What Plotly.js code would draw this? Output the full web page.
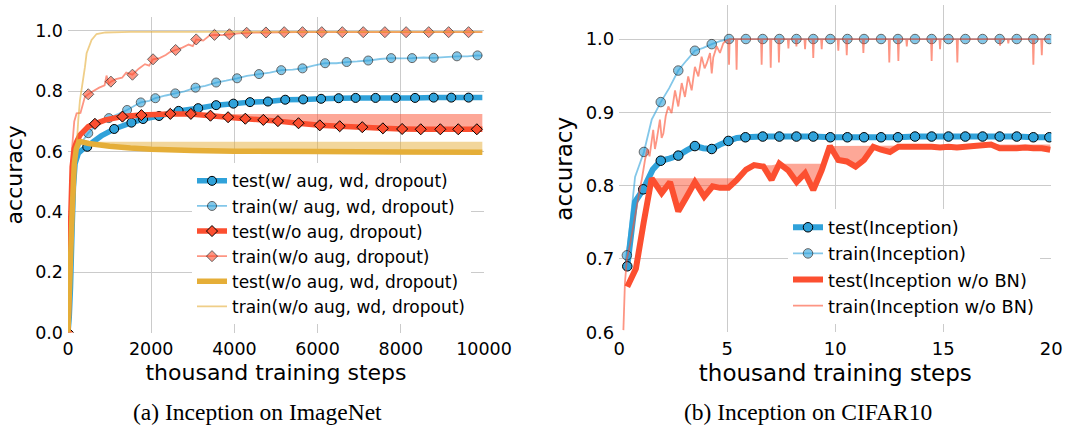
<!DOCTYPE html>
<html><head><meta charset="utf-8">
<script src="https://cdn.plot.ly/plotly-3.0.1.min.js"></script>
<style>html,body{margin:0;padding:0;background:#fff}</style>
</head><body>
<div id="chart" style="width:1065px;height:425px"></div>
<script>
// ---------- (a) Inception on ImageNet : x = thousand training steps ----------
var xTicksA = [0, 2000, 4000, 6000, 8000, 10000];
var xTickLabelsA = ['0', '2000', '4000', '6000', '8000', '10000'];
var yTicksA = [0, 0.2, 0.4, 0.6, 0.8, 1.0];

var testAugX = [0, 30, 60, 100, 130, 170, 250, 350, 463, 600, 800, 1110, 1525, 1805, 2188, 2659, 3130, 3561, 3976, 4375, 4806, 5222, 5653, 6084, 6507, 6914, 7393, 7880, 8343, 8790, 9214, 9629, 9960];
var testAugY = [0, 0.05, 0.15, 0.35, 0.48, 0.56, 0.595, 0.607, 0.616, 0.632, 0.652, 0.675, 0.696, 0.708, 0.718, 0.735, 0.744, 0.754, 0.759, 0.764, 0.766, 0.772, 0.773, 0.775, 0.777, 0.778, 0.778, 0.778, 0.778, 0.779, 0.779, 0.779, 0.779];
var testAugMkX = [463, 1110, 1525, 1805, 2188, 2659, 3130, 3561, 3976, 4375, 4806, 5222, 5653, 6084, 6507, 6914, 7393, 7880, 8343, 8790, 9214, 9629];
var testAugMkY = [0.616, 0.675, 0.696, 0.708, 0.718, 0.735, 0.744, 0.754, 0.759, 0.764, 0.766, 0.772, 0.773, 0.775, 0.777, 0.778, 0.778, 0.778, 0.778, 0.779, 0.779, 0.779];

var trainAugX = [0, 60, 100, 150, 250, 350, 487, 700, 982, 1200, 1421, 1600, 1749, 1950, 2100, 2350, 2579, 2800, 3066, 3300, 3561, 3800, 4064, 4300, 4591, 4850, 5126, 5400, 5637, 5900, 6180, 6450, 6699, 6950, 7217, 7500, 7768, 8000, 8271, 8550, 8790, 9050, 9349, 9600, 9844, 9960];
var trainAugY = [0, 0.2, 0.4, 0.55, 0.61, 0.635, 0.661, 0.69, 0.711, 0.724, 0.738, 0.752, 0.763, 0.768, 0.777, 0.786, 0.793, 0.8, 0.812, 0.818, 0.829, 0.835, 0.843, 0.851, 0.857, 0.862, 0.87, 0.872, 0.876, 0.885, 0.893, 0.893, 0.897, 0.899, 0.902, 0.907, 0.91, 0.909, 0.91, 0.912, 0.911, 0.913, 0.916, 0.916, 0.919, 0.918];
var trainAugMkX = [487, 982, 1421, 1749, 2100, 2579, 3066, 3561, 4064, 4591, 5126, 5637, 6180, 6699, 7217, 7768, 8271, 8790, 9349, 9844];
var trainAugMkY = [0.661, 0.711, 0.738, 0.763, 0.777, 0.793, 0.812, 0.829, 0.843, 0.857, 0.87, 0.876, 0.893, 0.897, 0.902, 0.91, 0.91, 0.911, 0.916, 0.919];

var testNoAugX = [0, 50, 100, 150, 200, 287, 487, 647, 900, 1309, 1764, 2459, 2954, 3425, 3848, 4263, 4695, 5046, 5541, 6052, 6531, 7074, 7569, 8032, 8479, 8950, 9381, 9828, 9960];
var testNoAugY = [0, 0.3, 0.55, 0.61, 0.63, 0.655, 0.683, 0.692, 0.705, 0.716, 0.721, 0.725, 0.725, 0.719, 0.714, 0.709, 0.705, 0.701, 0.694, 0.687, 0.684, 0.681, 0.677, 0.675, 0.674, 0.674, 0.674, 0.674, 0.674];
var testNoAugMkX = [0, 647, 1309, 1764, 2459, 2954, 3425, 3848, 4263, 4695, 5046, 5541, 6052, 6531, 7074, 7569, 8032, 8479, 8950, 9381, 9828];
var testNoAugMkY = [0, 0.692, 0.716, 0.721, 0.725, 0.725, 0.719, 0.714, 0.709, 0.705, 0.701, 0.694, 0.687, 0.684, 0.681, 0.677, 0.675, 0.674, 0.674, 0.674, 0.674];

var trainNoAugX = [0, 50, 88, 150, 207, 300, 407, 487, 600, 750, 880, 926, 980, 1030, 1150, 1300, 1400, 1549, 1700, 1850, 1950, 2044, 2200, 2350, 2450, 2587, 2750, 2900, 3000, 3082, 3250, 3400, 3521, 3700, 3880, 4100, 4295, 4758, 5500, 7000, 8500, 9960];
var trainNoAugY = [0, 0.35, 0.594, 0.7, 0.727, 0.728, 0.782, 0.79, 0.8, 0.812, 0.82, 0.852, 0.825, 0.832, 0.84, 0.845, 0.862, 0.855, 0.875, 0.89, 0.885, 0.906, 0.91, 0.92, 0.93, 0.937, 0.945, 0.955, 0.95, 0.972, 0.968, 0.985, 0.987, 0.986, 0.989, 0.992, 0.994, 0.995, 0.996, 0.996, 0.996, 0.996];
var trainNoAugMkX = [487, 1030, 1549, 2044, 2587, 3082, 3521, 3880, 4295, 4758, 5197, 5637, 6100, 6594, 7097, 7617, 8128, 8671, 9150, 9629];
var trainNoAugMkY = [0.79, 0.832, 0.855, 0.906, 0.937, 0.972, 0.987, 0.989, 0.994, 0.995, 0.996, 0.996, 0.996, 0.996, 0.996, 0.996, 0.996, 0.996, 0.996, 0.996];

var testNoRegX = [0, 50, 100, 150, 200, 260, 300, 500, 1000, 1500, 2000, 3000, 4000, 6000, 8000, 9960];
var testNoRegY = [0, 0.2, 0.4, 0.56, 0.61, 0.632, 0.633, 0.627, 0.618, 0.612, 0.608, 0.604, 0.601, 0.6, 0.599, 0.598];

var trainNoRegX = [0, 60, 127, 200, 247, 287, 407, 447, 567, 686, 900, 1500, 3000, 9960];
var trainNoRegY = [0, 0.2, 0.37, 0.6, 0.705, 0.77, 0.88, 0.926, 0.97, 0.99, 0.995, 0.997, 0.997, 0.997];

// ---------- (b) Inception on CIFAR10 ----------
var xTicksB = [0, 5, 10, 15, 20];
var yTicksB = [0.6, 0.7, 0.8, 0.9, 1.0];

var testIncX = [0.37, 0.73, 1.11, 1.55, 1.92, 2.31, 2.73, 3.12, 3.50, 3.89, 4.28, 4.66, 5.05, 5.44, 5.84, 6.64, 7.41, 8.20, 8.98, 9.77, 10.56, 11.33, 12.12, 12.90, 13.69, 14.46, 15.24, 16.02, 16.82, 17.61, 18.40, 19.17, 19.95];
var testIncY = [0.690, 0.778, 0.795, 0.822, 0.834, 0.837, 0.841, 0.848, 0.854, 0.851, 0.850, 0.856, 0.861, 0.865, 0.866, 0.867, 0.867, 0.867, 0.867, 0.866, 0.866, 0.866, 0.866, 0.866, 0.867, 0.867, 0.867, 0.867, 0.867, 0.867, 0.867, 0.866, 0.866];
var testIncMkX = [0.37, 1.11, 1.92, 2.73, 3.50, 4.28, 5.05, 5.84, 6.64, 7.41, 8.20, 8.98, 9.77, 10.56, 11.33, 12.12, 12.90, 13.69, 14.46, 15.24, 16.02, 16.82, 17.61, 18.40, 19.17, 19.91];
var testIncMkY = [0.690, 0.795, 0.834, 0.841, 0.854, 0.850, 0.861, 0.866, 0.867, 0.867, 0.867, 0.867, 0.866, 0.866, 0.866, 0.866, 0.866, 0.867, 0.867, 0.867, 0.867, 0.867, 0.867, 0.867, 0.866, 0.866];

var trainIncX = [0.35, 0.73, 1.14, 1.50, 1.92, 2.31, 2.73, 3.12, 3.50, 3.89, 4.28, 4.66, 5.08, 19.95];
var trainIncY = [0.705, 0.812, 0.846, 0.890, 0.914, 0.933, 0.957, 0.971, 0.984, 0.988, 0.993, 0.997, 1.0, 1.0];
var trainIncMkX = [0.35, 1.14, 1.92, 2.73, 3.50, 4.28, 5.08, 5.86, 6.64, 7.41, 8.20, 8.98, 9.77, 10.56, 11.33, 12.12, 12.90, 13.69, 14.46, 15.24, 16.02, 16.82, 17.61, 18.40, 19.17, 19.91];
var trainIncMkY = [0.705, 0.846, 0.914, 0.957, 0.984, 0.993, 1.0, 1.0, 1.0, 1.0, 1.0, 1.0, 1.0, 1.0, 1.0, 1.0, 1.0, 1.0, 1.0, 1.0, 1.0, 1.0, 1.0, 1.0, 1.0, 1.0];

var testNoBNX = [0.37, 0.77, 1.13, 1.50, 1.96, 2.35, 2.73, 3.12, 3.50, 3.93, 4.32, 4.66, 5.05, 5.44, 5.87, 6.24, 6.67, 7.05, 7.41, 7.82, 8.21, 8.60, 8.98, 9.37, 9.75, 10.14, 10.53, 10.94, 11.33, 11.76, 12.12, 12.53, 12.92, 13.31, 13.69, 14.08, 14.46, 14.85, 15.24, 15.63, 16.02, 16.41, 16.82, 17.21, 17.61, 18.00, 18.40, 18.79, 19.17, 19.56, 19.95];
var testNoBNY = [0.662, 0.687, 0.750, 0.810, 0.790, 0.805, 0.765, 0.785, 0.805, 0.785, 0.799, 0.797, 0.797, 0.808, 0.822, 0.828, 0.826, 0.808, 0.830, 0.821, 0.805, 0.817, 0.794, 0.821, 0.854, 0.835, 0.833, 0.826, 0.835, 0.853, 0.849, 0.846, 0.853, 0.853, 0.853, 0.853, 0.853, 0.852, 0.853, 0.852, 0.853, 0.854, 0.855, 0.856, 0.851, 0.851, 0.851, 0.852, 0.851, 0.851, 0.849];

var trainNoBNX = [0.19, 0.26, 0.35, 0.50, 0.65, 0.80, 0.95, 1.05, 1.19, 1.30, 1.40, 1.57, 1.65, 1.73, 1.88, 1.96, 2.04, 2.15, 2.27, 2.42, 2.58, 2.73, 2.89, 3.04, 3.19, 3.35, 3.50, 3.66, 3.81, 3.95, 4.05, 4.20, 4.28, 4.35, 4.51, 4.66, 4.81, 4.95,
  5.05, 5.08, 5.11, 5.40, 5.43, 5.46, 6.56, 6.59, 6.62, 6.98, 7.01, 7.04, 7.36, 7.39, 7.42, 7.80, 7.83, 7.86, 8.17, 8.20, 8.23, 8.57, 8.60, 8.63, 8.95, 8.98, 9.01, 9.34, 9.37, 9.40, 10.11, 10.14, 10.17, 10.50, 10.53, 10.56, 11.27, 11.30, 11.33, 12.47, 12.50, 12.53, 12.89, 12.92, 12.95, 13.28, 13.31, 13.34, 14.43, 14.46, 14.49, 14.82, 14.85, 14.88, 15.62, 15.65, 15.68, 17.60, 17.63, 17.66, 17.98, 18.01, 18.04, 19.14, 19.17, 19.20, 19.53, 19.56, 19.59, 19.95];
var trainNoBNY = [0.603, 0.667, 0.700, 0.720, 0.745, 0.770, 0.795, 0.810, 0.835, 0.850, 0.840, 0.876, 0.850, 0.862, 0.890, 0.865, 0.871, 0.895, 0.908, 0.899, 0.930, 0.908, 0.940, 0.921, 0.949, 0.930, 0.962, 0.949, 0.976, 0.960, 0.967, 0.981, 0.953, 0.975, 0.990, 0.981, 0.994, 0.998,
  0.999, 0.965, 1.0, 1.0, 0.958, 1.0, 1.0, 0.965, 1.0, 1.0, 0.961, 1.0, 1.0, 0.968, 1.0, 1.0, 0.987, 1.0, 1.0, 0.990, 1.0, 1.0, 0.986, 1.0, 1.0, 0.974, 1.0, 1.0, 0.986, 1.0, 1.0, 0.984, 1.0, 1.0, 0.978, 1.0, 1.0, 0.981, 1.0, 1.0, 0.968, 1.0, 1.0, 0.970, 1.0, 1.0, 0.990, 1.0, 1.0, 0.970, 1.0, 1.0, 0.986, 1.0, 1.0, 0.968, 1.0, 1.0, 0.991, 1.0, 1.0, 0.994, 1.0, 1.0, 0.965, 1.0, 1.0, 0.978, 1.0, 1.0];

// ---------- styling ----------
var BLUE = '#30a2da', RED = '#fc4f30', YELLOW = '#e5ae38';
function rgba(hex, a) {
  var r = parseInt(hex.substr(1, 2), 16), g = parseInt(hex.substr(3, 2), 16), b = parseInt(hex.substr(5, 2), 16);
  return 'rgba(' + r + ',' + g + ',' + b + ',' + a + ')';
}
function runningMax(arr) {
  var out = [], m = -Infinity;
  for (var i = 0; i < arr.length; i++) { m = Math.max(m, arr[i]); out.push(m); }
  return out;
}
var traces = [];
function fillGap(xs, ys, color, xa, ya) {
  traces.push({x: xs, y: runningMax(ys), xaxis: xa, yaxis: ya, mode: 'lines', line: {width: 0}, showlegend: false, hoverinfo: 'skip'});
  traces.push({x: xs, y: ys, xaxis: xa, yaxis: ya, mode: 'lines', line: {width: 0}, fill: 'tonexty', fillcolor: rgba(color, 0.5), showlegend: false, hoverinfo: 'skip'});
}
function line(xs, ys, color, width, xa, ya) {
  traces.push({x: xs, y: ys, xaxis: xa, yaxis: ya, mode: 'lines', line: {color: color, width: width, simplify: false}, showlegend: false});
}
function marks(xs, ys, color, symbol, size, opacity, xa, ya) {
  traces.push({x: xs, y: ys, xaxis: xa, yaxis: ya, mode: 'markers', marker: {color: color, symbol: symbol, size: size, opacity: opacity, line: {color: '#000', width: 1}}, showlegend: false});
}
var legendEntries = [];
function entry(name, lg, lineColor, width, mk) {
  var t = {x: [null], y: [null], xaxis: lg === 'legend' ? 'x' : 'x2', yaxis: lg === 'legend' ? 'y' : 'y2', name: name, legend: lg,
    mode: mk ? 'lines+markers' : 'lines', line: {color: lineColor, width: width}};
  if (mk) t.marker = {color: mk.color, symbol: mk.symbol, size: mk.size, opacity: mk.opacity, line: {color: '#000', width: 1}};
  legendEntries.push(t);
}

// fills (running-max gap of each test curve)
fillGap(testAugX, testAugY, BLUE, 'x', 'y');
fillGap(testNoAugX, testNoAugY, RED, 'x', 'y');
fillGap(testNoRegX, testNoRegY, YELLOW, 'x', 'y');
fillGap(testIncX, testIncY, BLUE, 'x2', 'y2');
fillGap(testNoBNX, testNoBNY, RED, 'x2', 'y2');

// panel (a)
line(testAugX, testAugY, BLUE, 5.5, 'x', 'y');
marks(testAugMkX, testAugMkY, BLUE, 'circle', 9, 1, 'x', 'y');
line(trainAugX, trainAugY, rgba(BLUE, 0.6), 1.8, 'x', 'y');
marks(trainAugMkX, trainAugMkY, BLUE, 'circle', 9, 0.6, 'x', 'y');
line(testNoAugX, testNoAugY, RED, 5.5, 'x', 'y');
marks(testNoAugMkX, testNoAugMkY, RED, 'diamond', 8.5, 1, 'x', 'y');
line(trainNoAugX, trainNoAugY, rgba(RED, 0.6), 1.8, 'x', 'y');
marks(trainNoAugMkX, trainNoAugMkY, RED, 'diamond', 8.5, 0.6, 'x', 'y');
line(testNoRegX, testNoRegY, YELLOW, 5.5, 'x', 'y');
line(trainNoRegX, trainNoRegY, rgba(YELLOW, 0.6), 1.8, 'x', 'y');

// panel (b)
line(testIncX, testIncY, BLUE, 6, 'x2', 'y2');
marks(testIncMkX, testIncMkY, BLUE, 'circle', 9.5, 1, 'x2', 'y2');
line(trainIncX, trainIncY, rgba(BLUE, 0.6), 1.8, 'x2', 'y2');
marks(trainIncMkX, trainIncMkY, BLUE, 'circle', 9.5, 0.6, 'x2', 'y2');
line(testNoBNX, testNoBNY, RED, 6, 'x2', 'y2');
line(trainNoBNX, trainNoBNY, rgba(RED, 0.6), 1.8, 'x2', 'y2');

// legend entries
entry('test(w/ aug, wd, dropout)', 'legend', BLUE, 5.5, {color: BLUE, symbol: 'circle', size: 9, opacity: 1});
entry('train(w/ aug, wd, dropout)', 'legend', rgba(BLUE, 0.6), 1.8, {color: BLUE, symbol: 'circle', size: 9, opacity: 0.6});
entry('test(w/o aug, dropout)', 'legend', RED, 5.5, {color: RED, symbol: 'diamond', size: 8.5, opacity: 1});
entry('train(w/o aug, dropout)', 'legend', rgba(RED, 0.6), 1.8, {color: RED, symbol: 'diamond', size: 8.5, opacity: 0.6});
entry('test(w/o aug, wd, dropout)', 'legend', YELLOW, 5.5, null);
entry('train(w/o aug, wd, dropout)', 'legend', rgba(YELLOW, 0.6), 1.8, null);
entry('test(Inception)', 'legend2', BLUE, 6, {color: BLUE, symbol: 'circle', size: 9.5, opacity: 1});
entry('train(Inception)', 'legend2', rgba(BLUE, 0.6), 1.8, {color: BLUE, symbol: 'circle', size: 9.5, opacity: 0.6});
entry('test(Inception w/o BN)', 'legend2', RED, 6, null);
entry('train(Inception w/o BN)', 'legend2', rgba(RED, 0.6), 1.8, null);
traces = traces.concat(legendEntries);

var FONT = 'DejaVu Sans, sans-serif';
function axisBase(extra) {
  var a = {showgrid: true, gridcolor: '#cbcbcb', gridwidth: 1, zeroline: false, showline: false, ticks: '',
    ticklabelstandoff: 4, automargin: false, fixedrange: true};
  for (var k in extra) a[k] = extra[k];
  return a;
}
var W = 1065, H = 425;
var layout = {
  width: W, height: H, margin: {l: 0, r: 0, t: 0, b: 0},
  paper_bgcolor: '#fff', plot_bgcolor: '#fff',
  font: {family: FONT, color: '#000'},
  showlegend: true,
  xaxis: axisBase({domain: [68 / W, 484 / W], range: [0, 10000], tickvals: xTicksA, ticktext: xTickLabelsA, anchor: 'y',
    tickfont: {size: 17.5}, title: {text: 'thousand training steps', font: {size: 22}, standoff: 6}}),
  yaxis: axisBase({domain: [1 - 332.5 / H, 1 - 17.1 / H], range: [0, 1.046], tickvals: yTicksA, tickformat: '.1f', anchor: 'x',
    tickfont: {size: 17.5}, title: {text: 'accuracy', font: {size: 22}, standoff: 6}}),
  xaxis2: axisBase({domain: [619.3 / W, 1051.3 / W], range: [0, 20], tickvals: xTicksB, anchor: 'y2',
    tickfont: {size: 18}, title: {text: 'thousand training steps', font: {size: 23}, standoff: 6}}),
  yaxis2: axisBase({domain: [1 - 332.3 / H, 1 - 5.3 / H], range: [0.6, 1.046], tickvals: yTicksB, tickformat: '.1f', anchor: 'x2',
    tickfont: {size: 18}, title: {text: 'accuracy', font: {size: 23}, standoff: 6}}),
  legend: {x: 192 / W, y: 1 - 163.3 / H, xanchor: 'left', yanchor: 'top', bgcolor: '#fff', borderwidth: 0,
    font: {family: FONT, size: 17, color: '#000'}, traceorder: 'normal'},
  legend2: {x: 788 / W, y: 1 - 209.2 / H, xanchor: 'left', yanchor: 'top', bgcolor: '#fff', borderwidth: 0,
    font: {family: FONT, size: 17.8, color: '#000'}, traceorder: 'normal'},
  annotations: [
    {text: '(a) Inception on ImageNet', xref: 'paper', yref: 'paper', x: 257.5 / W, y: 1 - 411.5 / H, xanchor: 'center', yanchor: 'middle',
      showarrow: false, font: {family: 'Liberation Serif, Times New Roman, serif', size: 23.5, color: '#000'}},
    {text: '(b) Inception on CIFAR10', xref: 'paper', yref: 'paper', x: 808.3 / W, y: 1 - 411.5 / H, xanchor: 'center', yanchor: 'middle',
      showarrow: false, font: {family: 'Liberation Serif, Times New Roman, serif', size: 23.5, color: '#000'}}
  ]
};
Plotly.newPlot('chart', traces, layout, {displayModeBar: false, staticPlot: true});
</script>
</body></html>
